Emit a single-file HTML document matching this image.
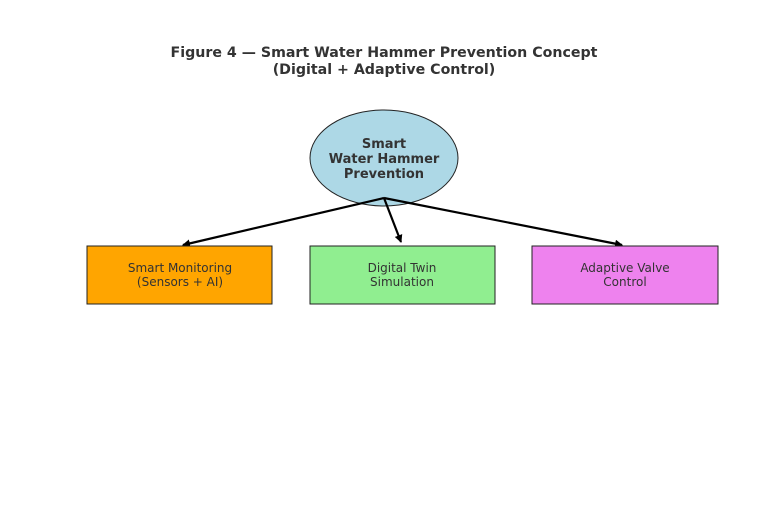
<!DOCTYPE html>
<html><head><style>body{margin:0;background:#fff}</style></head><body>
<svg width="768" height="512" xmlns="http://www.w3.org/2000/svg" font-family="DejaVu Sans, sans-serif">
<defs><marker id="a" markerWidth="8" markerHeight="8" refX="7" refY="4" orient="auto" markerUnits="userSpaceOnUse"><path d="M0,0 L8,4 L0,8 z" fill="#000"/></marker></defs>
<text x="384" y="57" text-anchor="middle" font-size="14.2" font-weight="bold" fill="#333">Figure 4 — Smart Water Hammer Prevention Concept</text>
<text x="384" y="74" text-anchor="middle" font-size="14.2" font-weight="bold" fill="#333">(Digital + Adaptive Control)</text>
<ellipse cx="384" cy="158" rx="74" ry="48" fill="#add8e6" stroke="#222" stroke-width="1"/>
<g font-size="13" font-weight="bold" fill="#333" text-anchor="middle">
<text x="384" y="148">Smart</text><text x="384" y="163">Water Hammer</text><text x="384" y="178">Prevention</text></g>
<g stroke="#000" stroke-width="2.2" marker-end="url(#a)">
<line x1="384" y1="198" x2="183" y2="245"/>
<line x1="384" y1="198" x2="401" y2="242"/>
<line x1="384" y1="198" x2="622" y2="245"/>
</g>
<rect x="87" y="246" width="185" height="58" fill="#ffa500" stroke="#222"/>
<rect x="310" y="246" width="185" height="58" fill="#90ee90" stroke="#222"/>
<rect x="532" y="246" width="186" height="58" fill="#ee82ee" stroke="#222"/>
<g font-size="12" fill="#333" text-anchor="middle">
<text x="180" y="272">Smart Monitoring</text><text x="180" y="286">(Sensors + AI)</text>
<text x="402" y="272">Digital Twin</text><text x="402" y="286">Simulation</text>
<text x="625" y="272">Adaptive Valve</text><text x="625" y="286">Control</text></g>
</svg>
</body></html>
